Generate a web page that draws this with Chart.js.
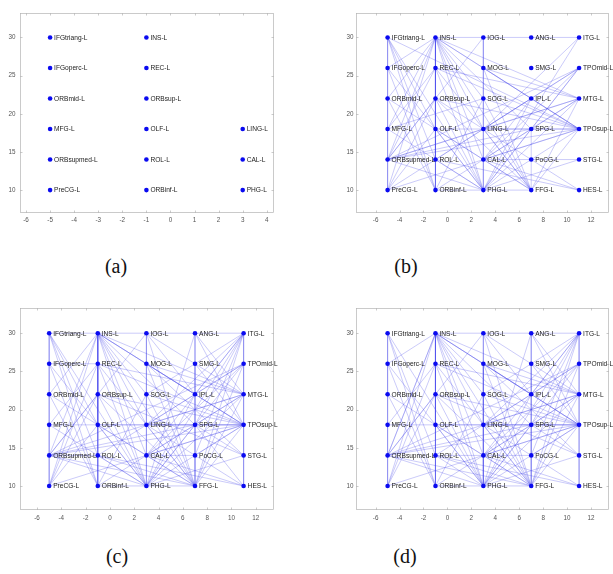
<!DOCTYPE html>
<html>
<head>
<meta charset="utf-8">
<script src="https://cdn.jsdelivr.net/npm/chart.js@4.4.1/dist/chart.umd.min.js"></script>
<style>
  body { margin: 0; background: #fff; width: 613px; height: 574px; position: relative; overflow: hidden; }
  canvas { position: absolute; }
  .cap { position: absolute; font-family: "Liberation Serif", serif; font-size: 20px; color: #111; transform: translate(-50%, -50%); }
</style>
</head>
<body>
<canvas id="chartA" width="306" height="235" style="left:0;top:0"></canvas>
<canvas id="chartB" width="307" height="235" style="left:306px;top:0"></canvas>
<canvas id="chartC" width="306" height="245" style="left:0;top:290px"></canvas>
<canvas id="chartD" width="307" height="245" style="left:306px;top:290px"></canvas>
<div class="cap" style="left:116px;top:266px">(a)</div>
<div class="cap" style="left:406px;top:266px">(b)</div>
<div class="cap" style="left:117px;top:556px">(c)</div>
<div class="cap" style="left:405px;top:556px">(d)</div>
<script>
// node layout (graph coordinates)
const nodeLabels = [
  "IFGtriang-L", "IFGoperc-L", "ORBmid-L", "MFG-L", "ORBsupmed-L", "PreCG-L",
  "INS-L", "REC-L", "ORBsup-L", "OLF-L", "ROL-L", "ORBinf-L",
  "IOG-L", "MOG-L", "SOG-L", "LING-L", "CAL-L", "PHG-L",
  "ANG-L", "SMG-L", "IPL-L", "SPG-L", "PoCG-L", "FFG-L",
  "ITG-L", "TPOmid-L", "MTG-L", "TPOsup-L", "STG-L", "HES-L"
];
const nodeX = [
  -5, -5, -5, -5, -5, -5,
  -1, -1, -1, -1, -1, -1,
  3, 3, 3, 3, 3, 3,
  7, 7, 7, 7, 7, 7,
  11, 11, 11, 11, 11, 11
];
const nodeY = [
  30, 26, 22, 18, 14, 10,
  30, 26, 22, 18, 14, 10,
  30, 26, 22, 18, 14, 10,
  30, 26, 22, 18, 14, 10,
  30, 26, 22, 18, 14, 10
];

// panel (a) only shows these nodes, no edges
const nodesA = [
  "IFGtriang-L", "IFGoperc-L", "ORBmid-L", "MFG-L", "ORBsupmed-L", "PreCG-L",
  "INS-L", "REC-L", "ORBsup-L", "OLF-L", "ROL-L", "ORBinf-L",
  "LING-L", "CAL-L", "PHG-L"
];

const edgesB = [
  "IFGtriang IFGoperc", "IFGoperc ORBmid", "ORBmid MFG", "MFG ORBsupmed", "ORBsupmed PreCG",
  "INS REC", "REC ORBsup", "ORBsup OLF", "OLF ROL", "ROL ORBinf",
  "IOG MOG", "MOG SOG", "SOG LING", "LING CAL", "CAL PHG",
  "INS IOG", "IOG ANG", "ANG ITG", "ORBinf PHG", "PHG FFG",
  "CAL PoCG", "PoCG STG", "LING SPG", "SPG TPOsup",
  "INS ORBsupmed", "INS PreCG", "INS MFG", "INS ORBinf", "INS PHG", "INS FFG", "INS CAL",
  "INS LING", "INS SPG", "INS IPL", "INS MTG", "INS TPOsup", "INS SOG", "INS ROL",
  "IFGtriang ROL", "IFGtriang ORBinf", "IFGtriang OLF", "IFGtriang PHG", "IFGtriang TPOsup",
  "IFGoperc ORBinf", "IFGoperc PHG", "IFGoperc INS",
  "ORBmid INS", "ORBmid ORBinf", "ORBmid CAL",
  "MFG REC", "MFG PHG", "MFG SOG",
  "ORBsupmed TPOmid", "ORBsupmed MTG", "ORBsupmed TPOsup", "ORBsupmed SPG", "ORBsupmed ORBsup",
  "ORBsupmed REC", "ORBsupmed PHG", "ORBsupmed IOG", "ORBsupmed LING",
  "PreCG ORBsup", "PreCG OLF", "PreCG TPOsup", "PreCG IPL",
  "REC PHG", "REC MTG", "REC FFG", "REC TPOsup",
  "ORBsup PHG", "ORBsup FFG", "ORBsup TPOsup", "ORBsup LING",
  "OLF PHG", "OLF TPOsup", "OLF FFG",
  "ROL PHG", "ROL TPOmid", "ROL HES",
  "ORBinf MTG", "ORBinf SOG",
  "MOG MTG", "MOG FFG", "MOG TPOsup",
  "SOG TPOsup", "SOG FFG",
  "LING TPOmid", "LING MTG", "LING ITG", "LING FFG",
  "CAL TPOmid", "CAL TPOsup", "CAL MTG", "CAL HES", "CAL IPL",
  "PHG TPOsup", "PHG MTG", "PHG SPG", "PHG ITG", "PHG STG", "PHG TPOmid", "PHG IPL",
  "FFG TPOsup", "FFG MTG", "FFG SPG", "FFG CAL",
  "IPL TPOsup", "SPG TPOmid", "HES LING"
];

const edgesC = [
  "IFGtriang IFGoperc", "IFGoperc ORBmid", "ORBmid MFG", "MFG ORBsupmed", "ORBsupmed PreCG",
  "INS REC", "REC ORBsup", "ORBsup OLF", "OLF ROL", "ROL ORBinf",
  "IOG MOG", "MOG SOG", "SOG LING", "LING CAL", "CAL PHG",
  "ANG SMG", "SMG IPL", "IPL SPG", "SPG PoCG", "PoCG FFG",
  "ITG TPOmid", "TPOmid MTG", "MTG TPOsup", "TPOsup STG", "STG HES",
  "INS IOG", "IOG ANG", "ANG ITG", "ORBinf PHG", "PHG FFG",
  "CAL PoCG", "LING SPG", "SPG TPOsup", "ORBsupmed ROL",
  "INS ORBsupmed", "INS PreCG", "INS ORBinf", "INS PHG", "INS FFG", "INS CAL", "INS LING",
  "INS SPG", "INS IPL", "INS MTG", "INS TPOsup", "INS SOG", "INS MOG", "INS OLF",
  "IFGtriang ROL", "IFGtriang ORBinf", "IFGtriang OLF", "IFGtriang PHG", "IFGtriang INS",
  "IFGoperc ORBinf", "IFGoperc PHG", "IFGoperc REC",
  "ORBmid INS", "ORBmid FFG", "ORBmid ORBinf",
  "MFG REC", "MFG PHG", "MFG TPOsup",
  "ORBsupmed TPOmid", "ORBsupmed MTG", "ORBsupmed TPOsup", "ORBsupmed SPG", "ORBsupmed ORBsup",
  "ORBsupmed IOG", "ORBsupmed PHG", "ORBsupmed FFG",
  "PreCG ORBsup", "PreCG OLF", "PreCG TPOsup", "PreCG REC",
  "REC PHG", "REC MTG", "REC FFG", "REC TPOsup",
  "ORBsup PHG", "ORBsup FFG", "ORBsup TPOsup", "ORBsup STG",
  "OLF FFG", "OLF TPOsup", "OLF PHG",
  "ROL PHG", "ROL TPOmid", "ROL HES", "ROL FFG",
  "ORBinf MTG", "ORBinf SOG",
  "IOG IPL", "IOG MTG", "IOG FFG",
  "MOG MTG", "MOG FFG", "MOG TPOsup", "MOG IPL", "MOG STG",
  "SOG TPOsup", "SOG FFG", "SOG ITG",
  "LING TPOmid", "LING MTG", "LING ITG", "LING FFG",
  "CAL TPOmid", "CAL TPOsup", "CAL MTG", "CAL HES", "CAL ITG",
  "PHG TPOsup", "PHG MTG", "PHG SPG", "PHG ITG", "PHG STG", "PHG TPOmid", "PHG IPL", "PHG ANG",
  "FFG TPOsup", "FFG MTG", "FFG ITG", "FFG TPOmid", "FFG SMG",
  "ITG SPG", "ITG PoCG", "ITG IPL",
  "ANG MTG", "ANG TPOsup", "SMG TPOsup", "IPL TPOsup", "SPG STG", "PoCG TPOsup",
  "HES LING", "HES SPG"
];

const edgesD = [
  "IFGtriang IFGoperc", "IFGoperc ORBmid", "ORBmid MFG", "MFG ORBsupmed", "ORBsupmed PreCG",
  "INS REC", "REC ORBsup", "ORBsup OLF", "OLF ROL", "ROL ORBinf",
  "IOG MOG", "MOG SOG", "SOG LING", "LING CAL", "CAL PHG",
  "ANG SMG", "SMG IPL", "IPL SPG", "SPG PoCG", "PoCG FFG",
  "ITG TPOmid", "TPOmid MTG", "MTG TPOsup", "TPOsup STG", "STG HES",
  "INS IOG", "IOG ANG", "ANG ITG", "ORBinf PHG", "PHG FFG",
  "ROL CAL", "CAL PoCG", "LING SPG", "SPG TPOsup",
  "INS ORBsupmed", "INS PreCG", "INS IFGoperc", "INS ORBinf", "INS PHG", "INS FFG", "INS CAL",
  "INS LING", "INS SPG", "INS IPL", "INS MTG", "INS TPOsup", "INS SOG", "INS MOG", "INS OLF",
  "IFGtriang ROL", "IFGtriang ORBinf", "IFGtriang PHG",
  "IFGoperc ORBinf", "IFGoperc PHG",
  "ORBmid FFG", "ORBmid ORBinf",
  "MFG REC", "MFG TPOsup",
  "ORBsupmed TPOmid", "ORBsupmed MTG", "ORBsupmed TPOsup", "ORBsupmed SPG", "ORBsupmed ORBsup",
  "ORBsupmed IOG", "ORBsupmed PHG", "ORBsupmed FFG", "ORBsupmed INS",
  "PreCG ORBsup", "PreCG TPOsup", "PreCG REC",
  "REC PHG", "REC MTG", "REC FFG", "REC TPOsup",
  "ORBsup PHG", "ORBsup FFG", "ORBsup TPOsup", "ORBsup STG",
  "OLF FFG", "OLF TPOsup", "OLF PHG",
  "ROL PHG", "ROL TPOmid", "ROL HES", "ROL FFG",
  "ORBinf MTG", "ORBinf SOG",
  "IOG IPL", "IOG MTG", "IOG FFG",
  "MOG MTG", "MOG FFG", "MOG TPOsup", "MOG IPL", "MOG STG", "MOG PHG",
  "SOG TPOsup", "SOG FFG", "SOG ITG",
  "LING TPOmid", "LING MTG", "LING ITG", "LING FFG",
  "CAL TPOmid", "CAL TPOsup", "CAL MTG", "CAL HES", "CAL ITG",
  "PHG TPOsup", "PHG MTG", "PHG SPG", "PHG ITG", "PHG STG", "PHG TPOmid", "PHG IPL", "PHG ANG",
  "FFG TPOsup", "FFG MTG", "FFG ITG", "FFG TPOmid", "FFG SMG",
  "ITG SPG", "ITG PoCG", "ITG IPL",
  "ANG MTG", "ANG TPOsup", "SMG TPOsup", "IPL TPOsup", "SPG STG", "PoCG TPOsup",
  "HES LING"
];

const yTicks = [10, 15, 20, 25, 30];

const nodePoint = (label) => {
  const i = nodeLabels.indexOf(label);
  return { x: nodeX[i], y: nodeY[i], label: label };
};

// box around the plot area with small inward ticks, like matlab axes
const boxPlugin = {
  id: "box",
  afterDraw(chart) {
    const { ctx, chartArea: a, scales } = chart;
    ctx.save();
    ctx.strokeStyle = "#b4b4b4";
    ctx.lineWidth = 0.7;
    ctx.strokeRect(a.left + 0.5, a.top + 0.5, a.right - a.left - 1, a.bottom - a.top - 1);
    ctx.beginPath();
    scales.x.ticks.forEach((t) => {
      const px = Math.round(scales.x.getPixelForValue(t.value)) + 0.5;
      ctx.moveTo(px, a.bottom); ctx.lineTo(px, a.bottom - 2.5);
      ctx.moveTo(px, a.top); ctx.lineTo(px, a.top + 2.5);
    });
    scales.y.ticks.forEach((t) => {
      const py = Math.round(scales.y.getPixelForValue(t.value)) + 0.5;
      ctx.moveTo(a.left, py); ctx.lineTo(a.left + 2.5, py);
      ctx.moveTo(a.right, py); ctx.lineTo(a.right - 2.5, py);
    });
    ctx.stroke();
    ctx.restore();
  },
};

// node names to the right of each dot
const labelPlugin = {
  id: "nodeLabels",
  afterDatasetsDraw(chart) {
    const idx = chart.data.datasets.findIndex((d) => d.id === "nodes");
    const meta = chart.getDatasetMeta(idx);
    const ds = chart.data.datasets[idx];
    const ctx = chart.ctx;
    ctx.save();
    ctx.font = "6.6px 'Liberation Sans', Arial, sans-serif";
    ctx.fillStyle = "#1a1a1a";
    ctx.textBaseline = "middle";
    meta.data.forEach((pt, i) => {
      ctx.fillText(ds.data[i].label, pt.x + 4, pt.y + 0.5);
    });
    ctx.restore();
  },
};

const makeChart = (id, nodes, edges, xr, yr, pad) => {
  const edgeSets = edges.map((e) => {
    const [a, b] = e.split(" ");
    return {
      data: [nodePoint(a + "-L"), nodePoint(b + "-L")],
      showLine: true,
      pointRadius: 0,
      borderColor: "rgba(75, 75, 235, 0.36)",
      borderWidth: 0.8,
      order: 1,
    };
  });

  const nodeSet = {
    id: "nodes",
    data: nodes.map(nodePoint),
    pointRadius: 2.3,
    pointBackgroundColor: "#0a0af0",
    pointBorderWidth: 0,
    showLine: false,
    order: 0,
  };

  const tickFont = { family: "'Liberation Sans', Arial, sans-serif", size: 6.3 };

  return new Chart(document.getElementById(id), {
    type: "scatter",
    data: { datasets: [nodeSet, ...edgeSets] },
    options: {
      responsive: false,
      animation: false,
      events: [],
      layout: { padding: { top: pad.top, right: pad.right, left: 0, bottom: 0 } },
      plugins: { legend: { display: false }, tooltip: { enabled: false } },
      scales: {
        x: {
          type: "linear",
          min: xr[0],
          max: xr[1],
          grid: { display: false, drawTicks: false },
          border: { display: false },
          ticks: { stepSize: xr[2], includeBounds: false, font: tickFont, color: "#555", padding: pad.xPad, maxRotation: 0 },
          afterFit: (s) => { s.height = pad.xHeight; },
        },
        y: {
          type: "linear",
          min: yr[0],
          max: yr[1],
          grid: { display: false, drawTicks: false },
          border: { display: false },
          afterBuildTicks: (s) => { s.ticks = yTicks.map((v) => ({ value: v })); },
          ticks: { font: tickFont, color: "#555", padding: pad.yPad },
          afterFit: (s) => { s.width = pad.yWidth; },
        },
      },
    },
    plugins: [boxPlugin, labelPlugin],
  });
};

makeChart("chartA", nodesA, [], [-6.25, 4.3, 1], [7, 33.2],
  { top: 13, right: 32, yWidth: 20, xHeight: 22, xPad: 3.5, yPad: 4.5 });
makeChart("chartB", nodeLabels, edgesB, [-7.64, 13.5, 2], [7, 33.2],
  { top: 13, right: 1, yWidth: 50, xHeight: 22, xPad: 3.5, yPad: 2.5 });
makeChart("chartC", nodeLabels, edgesC, [-7.4, 13.5, 2], [6.85, 33.3],
  { top: 18, right: 32, yWidth: 20, xHeight: 25, xPad: 4, yPad: 4.5 });
makeChart("chartD", nodeLabels, edgesD, [-7.64, 13.5, 2], [6.85, 33.3],
  { top: 18, right: 1, yWidth: 50, xHeight: 25, xPad: 4, yPad: 2.5 });
</script>
</body>
</html>
